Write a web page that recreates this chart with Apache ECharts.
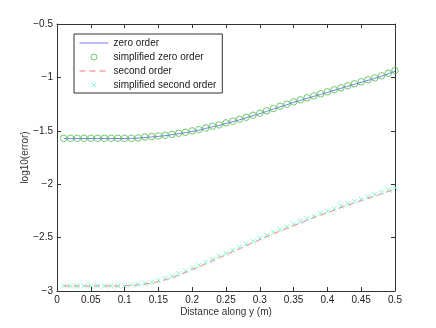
<!DOCTYPE html>
<html><head><meta charset="utf-8">
<script src="https://cdn.jsdelivr.net/npm/echarts@6/dist/echarts.min.js"></script>
<style>html,body{margin:0;padding:0;background:#fff}#c{width:436px;height:328px}</style>
</head><body><div id="c"></div>
<script>
const distance = [0.01,0.02,0.03,0.04,0.05,0.06,0.07,0.08,0.09,0.10,0.11,0.12,0.13,0.14,0.15,0.16,0.17,0.18,0.19,0.20,0.21,0.22,0.23,0.24,0.25,0.26,0.27,0.28,0.29,0.30,0.31,0.32,0.33,0.34,0.35,0.36,0.37,0.38,0.39,0.40,0.41,0.42,0.43,0.44,0.45,0.46,0.47,0.48,0.49,0.50];
const zeroOrder = [-1.572,-1.572,-1.572,-1.572,-1.572,-1.572,-1.572,-1.572,-1.572,-1.572,-1.571,-1.569,-1.562,-1.558,-1.552,-1.546,-1.537,-1.527,-1.518,-1.506,-1.494,-1.478,-1.462,-1.450,-1.431,-1.415,-1.397,-1.378,-1.359,-1.340,-1.318,-1.297,-1.275,-1.256,-1.234,-1.215,-1.196,-1.178,-1.159,-1.140,-1.121,-1.102,-1.084,-1.065,-1.046,-1.028,-1.009,-0.990,-0.966,-0.942];
const simplifiedZero = [-1.570,-1.570,-1.570,-1.570,-1.570,-1.570,-1.570,-1.570,-1.570,-1.570,-1.570,-1.567,-1.558,-1.554,-1.548,-1.542,-1.533,-1.523,-1.514,-1.501,-1.489,-1.473,-1.457,-1.445,-1.426,-1.410,-1.392,-1.373,-1.354,-1.335,-1.313,-1.292,-1.270,-1.251,-1.229,-1.210,-1.191,-1.173,-1.154,-1.135,-1.116,-1.097,-1.079,-1.060,-1.041,-1.023,-1.004,-0.985,-0.960,-0.935];
const secondOrder = [-2.953,-2.953,-2.953,-2.953,-2.953,-2.953,-2.953,-2.953,-2.953,-2.952,-2.948,-2.943,-2.936,-2.925,-2.912,-2.895,-2.876,-2.851,-2.826,-2.798,-2.773,-2.745,-2.717,-2.689,-2.660,-2.632,-2.604,-2.576,-2.548,-2.520,-2.492,-2.464,-2.438,-2.413,-2.388,-2.363,-2.338,-2.313,-2.288,-2.266,-2.244,-2.219,-2.197,-2.175,-2.154,-2.132,-2.110,-2.091,-2.069,-2.047];
const simplifiedSecond = [-2.953,-2.953,-2.953,-2.953,-2.953,-2.953,-2.953,-2.953,-2.953,-2.950,-2.944,-2.937,-2.928,-2.915,-2.900,-2.881,-2.862,-2.837,-2.812,-2.784,-2.759,-2.731,-2.703,-2.675,-2.646,-2.618,-2.590,-2.562,-2.534,-2.506,-2.478,-2.450,-2.424,-2.399,-2.374,-2.349,-2.324,-2.299,-2.274,-2.252,-2.230,-2.205,-2.183,-2.161,-2.140,-2.118,-2.096,-2.077,-2.055,-2.033];
const seriesNames = ['zero order','simplified zero order','second order','simplified second order'];
const xTickLabels = ['0','0.05','0.1','0.15','0.2','0.25','0.3','0.35','0.4','0.45','0.5'];
const yTickLabels = ['\u22123','\u22122.5','\u22122','\u22121.5','\u22121','\u22120.5'];

const pairs = arr => arr.map((v, i) => [distance[i], v]);
const font = 'Liberation Sans, Arial, sans-serif';
const axisLineStyle = { color: '#333', width: 1 };
const chart = echarts.init(document.getElementById('c'), null, { renderer: 'canvas' });
const xFmt = v => { const i = Math.round(v / 0.05); return xTickLabels[i] !== undefined ? xTickLabels[i] : ''; };
const yFmt = v => { const i = Math.round((v + 3) / 0.5); return yTickLabels[i] !== undefined ? yTickLabels[i] : ''; };
const baseX = { type: 'value', min: 0, max: 0.5, interval: 0.05, splitLine: { show: false },
  axisLine: { show: true, onZero: false, lineStyle: axisLineStyle },
  axisTick: { show: true, inside: true, length: 4, lineStyle: axisLineStyle } };
const baseY = { type: 'value', min: -3, max: -0.5, interval: 0.5, splitLine: { show: false },
  axisLine: { show: true, onZero: false, lineStyle: axisLineStyle },
  axisTick: { show: true, inside: true, length: 4, lineStyle: axisLineStyle } };
const circleIcon = 'path://M0,0M29,11M17.5,5.5A3,3,0,1,1,11.5,5.5A3,3,0,1,1,17.5,5.5Z';
const crossIcon = 'path://M0,0M29,11M12.5,3.5L16.5,7.5M16.5,3.5L12.5,7.5';
chart.setOption({
  animation: false,
  backgroundColor: '#fff',
  grid: { left: 57, top: 24, right: 41, bottom: 37, containLabel: false },
  xAxis: [
    Object.assign({}, baseX, { position: 'bottom',
      name: 'Distance along y (m)', nameLocation: 'middle', nameGap: 16, nameMoveOverlap: false,
      nameTextStyle: { fontFamily: font, fontSize: 10, color: '#333' },
      axisLabel: { formatter: xFmt, fontFamily: font, fontSize: 10, color: '#222', margin: 4 } }),
    Object.assign({}, baseX, { position: 'top', axisLabel: { show: false } })
  ],
  yAxis: [
    Object.assign({}, baseY, { position: 'left',
      name: 'log10(error)', nameLocation: 'middle', nameGap: 27, nameMoveOverlap: false,
      nameTextStyle: { fontFamily: font, fontSize: 10, color: '#333' },
      axisLabel: { formatter: yFmt, fontFamily: font, fontSize: 10, color: '#222', margin: 4 } }),
    Object.assign({}, baseY, { position: 'right', axisLabel: { show: false } })
  ],
  legend: {
    orient: 'vertical', left: 74, top: 34, width: 143,
    padding: [4, 6, 2, 5], itemGap: 3, itemWidth: 29, itemHeight: 11,
    borderColor: '#333', borderWidth: 1, backgroundColor: '#fff',
    textStyle: { fontFamily: font, fontSize: 10, color: '#222' },
    data: [
      { name: seriesNames[0], itemStyle: { opacity: 0 }, lineStyle: { width: 1 } },
      { name: seriesNames[1], icon: circleIcon, itemStyle: { color: 'rgba(0,0,0,0)', borderColor: '#4cbb4c', borderWidth: 1 } },
      { name: seriesNames[2], itemStyle: { opacity: 0 }, lineStyle: { width: 1 } },
      { name: seriesNames[3], icon: crossIcon, itemStyle: { color: 'rgba(0,0,0,0)', borderColor: '#66f5c8', borderWidth: 1 } }
    ]
  },
  series: [
    { name: seriesNames[0], type: 'line', data: pairs(zeroOrder), showSymbol: false, symbol: 'none',
      lineStyle: { color: '#7b7bff', width: 1 }, itemStyle: { color: '#7b7bff' }, z: 2 },
    { name: seriesNames[1], type: 'scatter', data: pairs(simplifiedZero), symbol: 'circle', symbolSize: 6.5,
      itemStyle: { color: 'rgba(0,0,0,0)', borderColor: '#4cbb4c', borderWidth: 1 }, z: 3 },
    { name: seriesNames[2], type: 'line', data: pairs(secondOrder), showSymbol: false, symbol: 'none',
      lineStyle: { color: '#ff7777', width: 1, type: [6, 4] }, itemStyle: { color: '#ff7777' }, z: 2 },
    { name: seriesNames[3], type: 'scatter', data: pairs(simplifiedSecond), symbol: 'path://M0,0L10,10M10,0L0,10', symbolSize: 5,
      itemStyle: { color: 'rgba(0,0,0,0)', borderColor: '#66f5c8', borderWidth: 1 }, z: 3 }
  ]
});
</script></body></html>
